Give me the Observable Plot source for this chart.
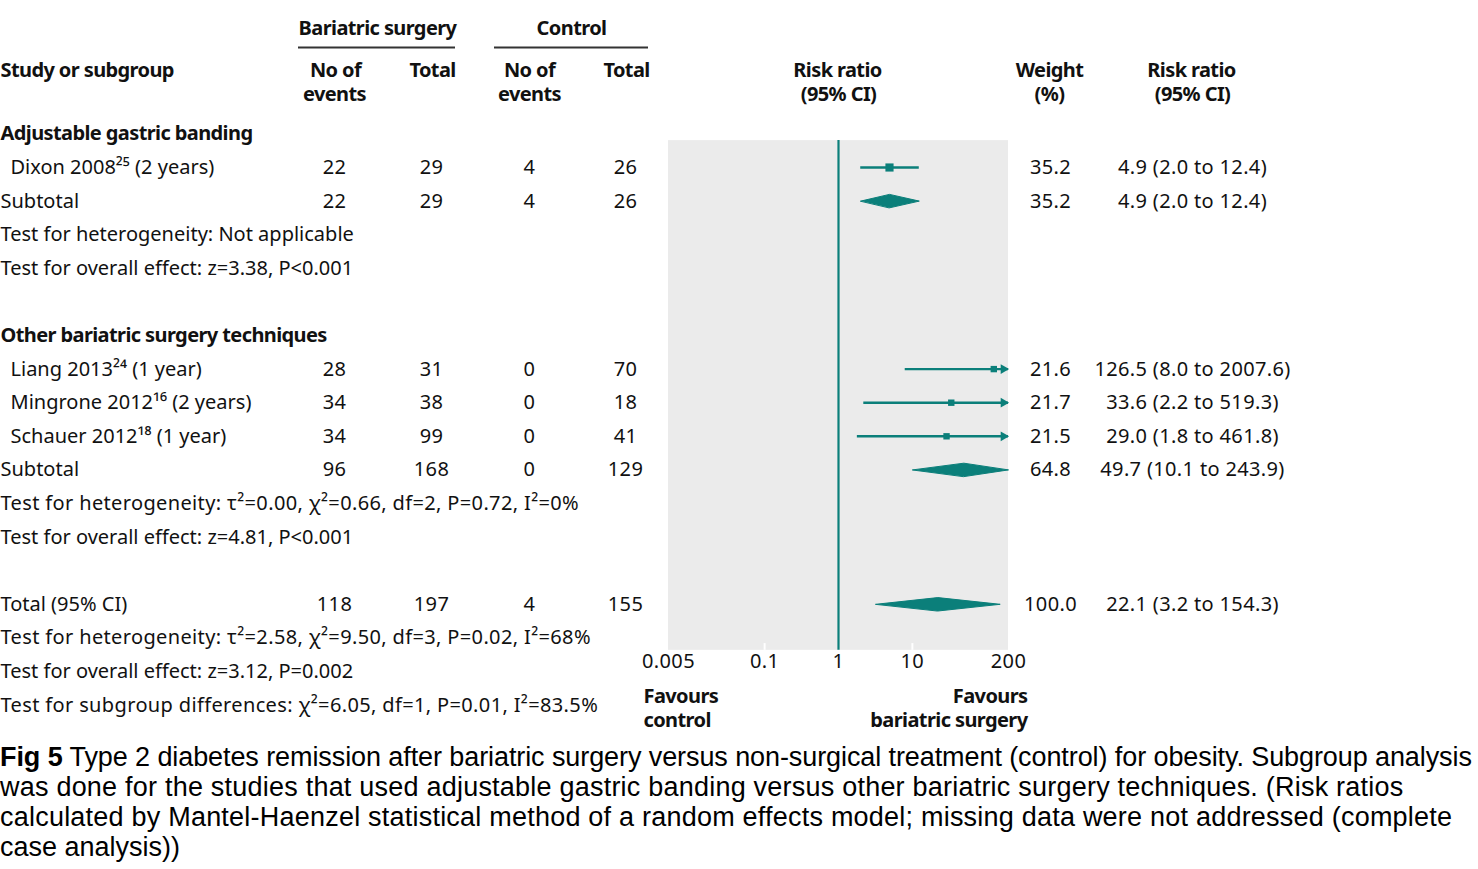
<!DOCTYPE html>
<html>
<head>
<meta charset="utf-8">
<script src="https://cdn.jsdelivr.net/npm/d3@7"></script>
<script src="https://cdn.jsdelivr.net/npm/@observablehq/plot@0.6"></script>
<style>
  body { margin: 0; background: #fff; }
  #chart svg { display: block; }
  #caption { font-family: "Liberation Sans", Arial, sans-serif; font-size: 27px; line-height: 30px; color: #000; white-space: nowrap; padding-top: 2px; }
  #caption .l1 { letter-spacing: -0.09px; }
  #caption .l2, #caption .l3 { letter-spacing: 0.22px; }
</style>
</head>
<body>
<div id="chart"></div>
<div id="caption">
  <div class="l1"><b>Fig 5</b> Type 2 diabetes remission after bariatric surgery versus non-surgical treatment (control) for obesity. Subgroup analysis</div>
  <div class="l2">was done for the studies that used adjustable gastric banding versus other bariatric surgery techniques. (Risk ratios</div>
  <div class="l3">calculated by Mantel-Haenzel statistical method of a random effects model; missing data were not addressed (complete</div>
  <div>case analysis))</div>
</div>
<script>
// ---------------- data ----------------
const groupHeadings = ["Adjustable gastric banding", "Other bariatric surgery techniques"];
const entryLabels = ["Dixon 2008²⁵ (2 years)", "Subtotal", "Liang 2013²⁴ (1 year)", "Mingrone 2012¹⁶ (2 years)", "Schauer 2012¹⁸ (1 year)", "Subtotal", "Total (95% CI)"];
const entryKinds = ["study", "summary", "study", "study", "study", "summary", "summary"];
const surgeryEvents = [22, 22, 28, 34, 34, 96, 118];
const surgeryTotals = [29, 29, 31, 38, 99, 168, 197];
const controlEvents = [4, 4, 0, 0, 0, 0, 4];
const controlTotals = [26, 26, 70, 18, 41, 129, 155];
const weights = [35.2, 35.2, 21.6, 21.7, 21.5, 64.8, 100.0];
const riskRatios = [4.9, 4.9, 126.5, 33.6, 29.0, 49.7, 22.1];
const ciLower = [2.0, 2.0, 8.0, 2.2, 1.8, 10.1, 3.2];
const ciUpper = [12.4, 12.4, 2007.6, 519.3, 461.8, 243.9, 154.3];
const testNotes = [
  "Test for heterogeneity: Not applicable",
  "Test for overall effect: z=3.38, P<0.001",
  "Test for heterogeneity: τ²=0.00, χ²=0.66, df=2, P=0.72, I²=0%",
  "Test for overall effect: z=4.81, P<0.001",
  "Test for heterogeneity: τ²=2.58, χ²=9.50, df=3, P=0.02, I²=68%",
  "Test for overall effect: z=3.12, P=0.002",
  "Test for subgroup differences: χ²=6.05, df=1, P=0.01, I²=83.5%"
];
const rowSequence = ["heading", "entry", "entry", "note", "note", "blank",
                     "heading", "entry", "entry", "entry", "entry", "note", "note", "blank",
                     "entry", "note", "note", "note"];
const axisTicks = [0.005, 0.1, 1, 10, 200];
const axisTickLabels = ["0.005", "0.1", "1", "10", "200"];

// ---------------- build rows ----------------
const headings = [], entries = [], notes = [];
let hi = 0, ei = 0, ni = 0;
rowSequence.forEach((t, i) => {
  const row = i - 1;
  if (t === "heading") headings.push({row, text: groupHeadings[hi++]});
  else if (t === "note") notes.push({row, text: testNotes[ni++]});
  else if (t === "entry") {
    const k = ei++;
    entries.push({
      row, label: entryLabels[k], kind: entryKinds[k],
      sEv: surgeryEvents[k], sTot: surgeryTotals[k], cEv: controlEvents[k], cTot: controlTotals[k],
      weight: weights[k], rr: riskRatios[k], lo: ciLower[k], up: ciUpper[k]
    });
  }
});
const studies = entries.filter(d => d.kind === "study");
const summaries = entries.filter(d => d.kind === "summary");

// ---------------- layout ----------------
const xDomain = [0.005, 200];
const xRange = [668, 1008];
const ROW0 = 167, ROWH = 33.6;
const yDomain = [-5, 17];
const yRange = [ROW0 - 5 * ROWH, ROW0 + 17 * ROWH];
const xPix = d3.scaleLog().domain(xDomain).range(xRange);
const teal = "#0b7f7a";
const ink = "#111";
const FS = 20;
const clipX = v => Math.min(v, xDomain[1]);
const diamondH = 0.2;
const diamonds = summaries.flatMap((d, i) => [
  {id: i, x: d.lo, y: d.row},
  {id: i, x: d.rr, y: d.row - diamondH},
  {id: i, x: clipX(d.up), y: d.row},
  {id: i, x: d.rr, y: d.row + diamondH}
]);

const HDR_TOP = -4.14, HDR_LINE = -3.57, HDR1 = -2.89, HDR2 = -2.17;
const PANEL_TOP = -0.8, PANEL_BOTTOM = 14.37;
const AXIS_ROW = 14.7, FAV1 = 15.74, FAV2 = 16.46;

function label(text, px, row, opts = {}) {
  return Plot.text([text], {text: d => d, y: () => row, frameAnchor: "left", dx: px,
    textAnchor: "middle", fontSize: FS, fill: ink, ...opts});
}
function column(data, px, fn, opts = {}) {
  return Plot.text(data, {text: fn, y: "row", frameAnchor: "left", dx: px,
    textAnchor: "middle", fontSize: FS, fill: ink, ...opts});
}
const B = {fontWeight: "bold"};

const chart = Plot.plot({
  width: 1478,
  height: 740,
  margin: 0,
  style: {fontFamily: "'Noto Sans', sans-serif", background: "#fff"},
  x: {type: "log", domain: xDomain, range: xRange, axis: null},
  y: {type: "linear", domain: yDomain, range: yRange, axis: null},
  r: {type: "sqrt", domain: [0, 35.2], range: [0, 4.6]},
  marks: [
    // panel
    Plot.rect([xDomain], {x1: d => d[0], x2: d => d[1], y1: () => PANEL_TOP, y2: () => PANEL_BOTTOM, fill: "#ebebeb"}),
    Plot.ruleX([0.1, 10], {y1: () => PANEL_BOTTOM - 0.2, y2: () => PANEL_BOTTOM, stroke: "#fff", strokeWidth: 2}),
    Plot.ruleX([1], {y1: () => PANEL_TOP, y2: () => PANEL_BOTTOM, stroke: teal, strokeWidth: 2.2}),
    // confidence intervals
    Plot.ruleY(studies, {y: "row", x1: "lo", x2: d => clipX(d.up), stroke: teal, strokeWidth: 2.4}),
    Plot.dot(studies.filter(d => d.up > xDomain[1]), {x: () => xDomain[1], y: "row", symbol: "triangle", rotate: 90, r: 3.6, fill: teal, dx: -5}),
    Plot.dot(studies, {x: "rr", y: "row", symbol: "square", r: "weight", fill: teal}),
    Plot.line(diamonds, {x: "x", y: "y", z: "id", curve: "linear-closed", fill: teal, stroke: teal, strokeWidth: 1}),
    // axis
    Plot.text(axisTicks, {x: d => d, y: () => AXIS_ROW, text: (d, i) => axisTickLabels[i], fontSize: FS, fill: ink}),
    label("Favours", 643, FAV1, {...B, textAnchor: "start"}),
    label("control", 643, FAV2, {...B, textAnchor: "start"}),
    label("Favours", 1027, FAV1, {...B, textAnchor: "end"}),
    label("bariatric surgery", 1027, FAV2, {...B, textAnchor: "end"}),
    // headers
    label("Bariatric surgery", 377, HDR_TOP, B),
    label("Control", 571, HDR_TOP, B),
    Plot.ruleY([HDR_LINE], {x1: () => xPix.invert(298), x2: () => xPix.invert(455), stroke: "#333", strokeWidth: 2}),
    Plot.ruleY([HDR_LINE], {x1: () => xPix.invert(494), x2: () => xPix.invert(648), stroke: "#333", strokeWidth: 2}),
    label("Study or subgroup", 0, HDR1, {...B, textAnchor: "start"}),
    label("No of", 335, HDR1, B), label("events", 334, HDR2, B),
    label("Total", 432, HDR1, B),
    label("No of", 529, HDR1, B), label("events", 529, HDR2, B),
    label("Total", 626, HDR1, B),
    label("Risk ratio", 837, HDR1, B), label("(95% CI)", 838, HDR2, B),
    label("Weight", 1049, HDR1, B), label("(%)", 1049, HDR2, B),
    label("Risk ratio", 1191, HDR1, B), label("(95% CI)", 1192, HDR2, B),
    // left table
    Plot.text(headings, {text: "text", y: "row", frameAnchor: "left", textAnchor: "start", fontSize: FS, fontWeight: "bold", fill: ink}),
    Plot.text(notes, {text: "text", y: "row", frameAnchor: "left", textAnchor: "start", fontSize: FS, fill: ink}),
    Plot.text(entries, {text: "label", y: "row", frameAnchor: "left", dx: 0, textAnchor: "start", fontSize: FS, fill: ink,
      filter: d => d.kind === "summary"}),
    Plot.text(studies, {text: "label", y: "row", frameAnchor: "left", dx: 10, textAnchor: "start", fontSize: FS, fill: ink}),
    column(entries, 334, d => d.sEv),
    column(entries, 431, d => d.sTot),
    column(entries, 529, d => d.cEv),
    column(entries, 625, d => d.cTot),
    // right table
    column(entries, 1050, d => d.weight.toFixed(1)),
    column(entries, 1192, d => `${d.rr.toFixed(1)} (${d.lo.toFixed(1)} to ${d.up.toFixed(1)})`)
  ]
});
document.getElementById("chart").appendChild(chart);
// typographic tuning: tighter bold face, slightly looser figures and statistics
d3.select(chart).selectAll("text").each(function () {
  const w = parseInt(getComputedStyle(this).fontWeight, 10);
  const t = this.textContent;
  if (w >= 600) this.setAttribute("letter-spacing", "-0.6");
  else if (/^[\d.]+( \(.*\))?$/.test(t)) this.setAttribute("letter-spacing", "0.35");
  else if (t.includes("²") && t.startsWith("Test")) this.setAttribute("letter-spacing", "0.36");
});
</script>
</body>
</html>
